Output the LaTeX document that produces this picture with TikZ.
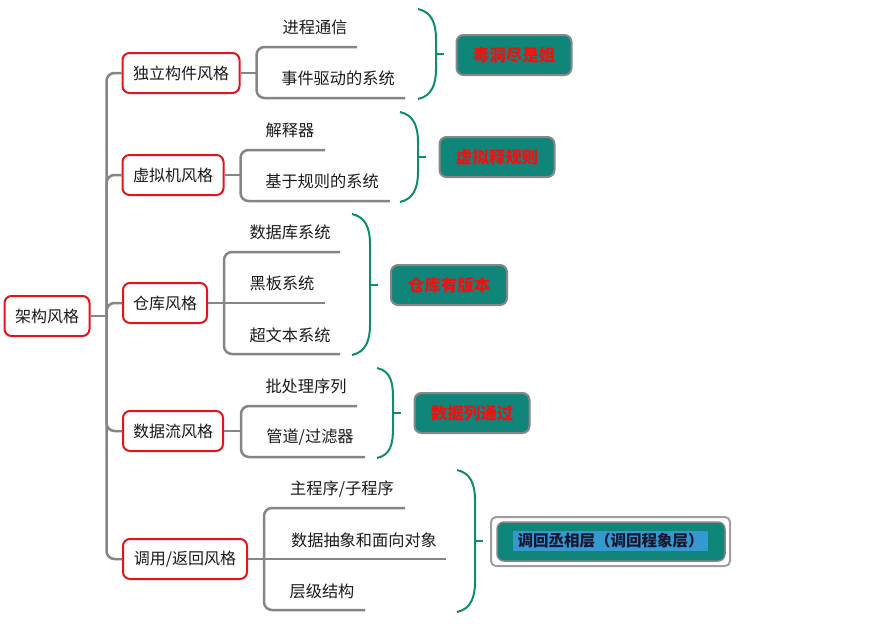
\documentclass[tikz,border=0pt]{standalone}
\usepackage{fontspec}
\setmainfont{Noto Sans CJK SC}
\usetikzlibrary{calc}
\definecolor{linegray}{HTML}{858585}
\definecolor{boxred}{HTML}{E3141B}
\definecolor{braceteal}{HTML}{0E8C70}
\definecolor{memofill}{HTML}{10857A}
\definecolor{memoborder}{HTML}{878787}
\definecolor{hilite}{HTML}{3598CF}
\definecolor{memotext}{HTML}{EE1111}
\definecolor{leaftext}{HTML}{1A1A1A}
\tikzset{
  lone/.style={draw=boxred, line width=2pt, rounded corners=7pt, fill=white,
    minimum height=40pt, inner xsep=2pt, text=leaftext, font=\fontsize{16}{18}\selectfont},
  leaf/.style={inner sep=0pt, text=leaftext, font=\fontsize{16.2}{18}\selectfont},
  memo/.style={draw=memoborder, line width=2pt, fill=memofill, rounded corners=7pt,
    minimum height=40pt, minimum width=115pt, text=memotext, font=\bfseries\fontsize{16.5}{18}\selectfont},
  conn/.style={draw=linegray, line width=2.5pt, rounded corners=8pt},
  brace/.style={draw=braceteal, line width=2pt},
}
\newcommand{\brc}[5]{%
  \draw[brace] (#1,#3) .. controls ({#1+14},{#3+3}) and (#2,{#3+15}) .. (#2,{#3+30})
     -- (#2,{#4-30}) .. controls (#2,{#4-15}) and ({#1+14},{#4-3}) .. (#1,#4);
  \draw[brace] (#2,#5) -- ({#2+8},#5);}
\begin{document}
\begin{tikzpicture}[x=1pt,y=-1pt]
\useasboundingbox (0,0) rectangle (888,625);

% root and level-1 nodes
\node[lone, minimum width=85pt] (root) at (47,316) {架构风格};
\node[lone, minimum width=117pt] (a) at (181,73) {独立构件风格};
\node[lone, minimum width=101pt] (b) at (173,175) {虚拟机风格};
\node[lone, minimum width=84pt] (c) at (165,303) {仓库风格};
\node[lone, minimum width=100pt] (d) at (173,431) {数据流风格};
\node[lone, minimum width=124pt] (e) at (185,559) {调用/返回风格};

% trunk
\coordinate (rt) at ($(root.east)+(16,0)$);
\draw[conn] (root.east) -- (rt);
\draw[conn] (a.west) -| (rt) |- (e.west);
\draw[conn] (rt) |- (b.west);
\draw[conn] (rt) |- (c.west);
\draw[conn] (rt) |- (d.west);

% leaves
\node[leaf] (a1) at (315,27) {进程通信};
\node[leaf] (a2) at (338,78) {事件驱动的系统};
\node[leaf] (b1) at (290,130) {解释器};
\node[leaf] (b2) at (322,181) {基于规则的系统};
\node[leaf] (c1) at (290,232) {数据库系统};
\node[leaf] (c2) at (282,283) {黑板系统};
\node[leaf] (c3) at (290,335) {超文本系统};
\node[leaf] (d1) at (306,386) {批处理序列};
\node[leaf] (d2) at (310,437) {管道/过滤器};
\node[leaf] (e1) at (342,489) {主程序/子程序};
\node[leaf] (e2) at (364,540) {数据抽象和面向对象};
\node[leaf] (e3) at (322,591) {层级结构};

% underline ends
\coordinate (a1e) at (357,47);
\coordinate (a2e) at (405,98);
\coordinate (b1e) at (325,150);
\coordinate (b2e) at (390,201);
\coordinate (c1e) at (340,252);
\coordinate (c2e) at (325,303);
\coordinate (c3e) at (340,354);
\coordinate (d1e) at (357,406);
\coordinate (d2e) at (365,457);
\coordinate (e1e) at (405,508);
\coordinate (e2e) at (446,559);
\coordinate (e3e) at (365,610);

% group junctions
\coordinate (aj) at ($(a.east)+(16,0)$);
\coordinate (bj) at ($(b.east)+(16,0)$);
\coordinate (cj) at ($(c.east)+(16,0)$);
\coordinate (dj) at ($(d.east)+(17,0)$);
\coordinate (ej) at ($(e.east)+(16,0)$);

\draw[conn] (a.east) -- (aj);
\draw[conn] (a1e) -| (aj) |- (a2e);
\draw[conn] (b.east) -- (bj);
\draw[conn] (b1e) -| (bj) |- (b2e);
\draw[conn] (c.east) -- (c2e);
\draw[conn] (c1e) -| (cj) |- (c3e);
\draw[conn] (d.east) -- (dj);
\draw[conn] (d1e) -| (dj) |- (d2e);
\draw[conn] (e.east) -- (e2e);
\draw[conn] (e1e) -| (ej) |- (e3e);

% braces
\brc{418}{436}{9}{99}{54}
\brc{400}{418}{112}{202}{157}
\brc{352}{370}{214}{355}{285}
\brc{377}{393}{368}{458}{413}
\brc{457}{475}{470}{612}{541}

% memo boxes
\node[memo] (ma) at (514,55) {毒洞尽是姐};
\node[memo] (mb) at (497,157) {虚拟释规则};
\node[memo, minimum width=116pt] (mc) at (449,285) {仓库有版本};
\node[memo] (md) at (472,413) {数据列通过};
\node[draw=memoborder!80, line width=2pt, fill=white, rounded corners=5pt,
      minimum width=239pt, minimum height=49pt] (meo) at (610.5,541.5) {};
\node[draw=memoborder, line width=1.5pt, fill=memofill, rounded corners=7pt,
      minimum width=228pt, minimum height=39pt] (me) at (611,541.5) {};
\node[fill=hilite, inner xsep=1pt, inner ysep=1pt, minimum width=195pt, minimum height=20pt,
      text=leaftext!90!blue, font=\bfseries\fontsize{15.5}{18}\selectfont] (met) at (610.5,541) {调回丞相层（调回程象层）};
\end{tikzpicture}
\end{document}
